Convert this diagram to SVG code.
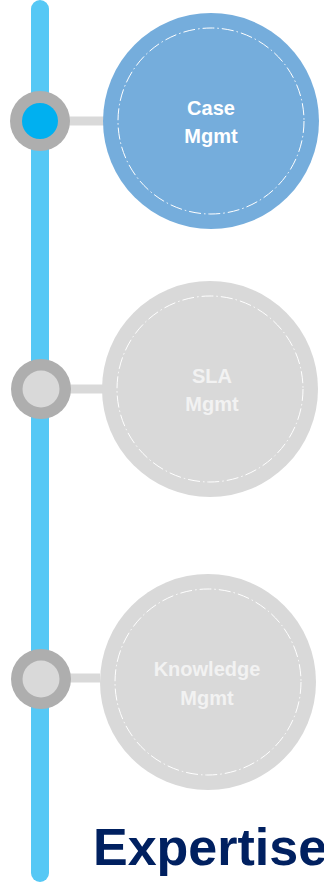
<svg xmlns="http://www.w3.org/2000/svg" width="324" height="882" viewBox="0 0 324 882">
  <style>
    .ring { fill: #aeaeae; }
    .dot-off { fill: #d9d9d9; }
    .dot-on { fill: #00b0f0; }
    .link { stroke: #d9d9d9; stroke-width: 9; }
    .disc-on { fill: #75addc; }
    .disc-off { fill: #d9d9d9; }
    .inner { fill: none; stroke: #ffffff; stroke-width: 1; stroke-dasharray: 12 3 1.5 3; }
    .label { font-family: "Liberation Sans", Arial, sans-serif; font-weight: bold; font-size: 20px; text-anchor: middle; }
    .label-on { fill: #ffffff; }
    .label-off { fill: #f2f2f2; }
    .title { font-family: "Liberation Sans", Arial, sans-serif; font-weight: bold; font-size: 52px; fill: #002060; }
  </style>

  <!-- timeline spine -->
  <rect id="spine" x="31" y="0" width="18" height="882" rx="9" fill="#56c8f5"/>

  <!-- connectors from spine markers to discs -->
  <g id="connectors">
    <line class="link" x1="68" y1="121" x2="104" y2="121"/>
    <line class="link" x1="70" y1="389" x2="104" y2="389"/>
    <line class="link" x1="70" y1="678" x2="100" y2="678"/>
  </g>

  <!-- step 1: active -->
  <g id="case-mgmt">
    <circle class="ring" cx="40" cy="121" r="30"/>
    <circle class="dot-on" cx="40" cy="121" r="18"/>
    <circle class="disc-on" cx="211" cy="121" r="108"/>
    <circle class="inner" cx="211" cy="121" r="93"/>
    <text class="label label-on" x="211" y="115">Case</text>
    <text class="label label-on" x="211" y="143">Mgmt</text>
  </g>

  <!-- step 2 -->
  <g id="sla-mgmt">
    <circle class="ring" cx="41" cy="389" r="30"/>
    <circle class="dot-off" cx="41" cy="389" r="18.5"/>
    <circle class="disc-off" cx="210" cy="389" r="108"/>
    <circle class="inner" cx="210" cy="389" r="93"/>
    <text class="label label-off" x="212" y="383">SLA</text>
    <text class="label label-off" x="212" y="411">Mgmt</text>
  </g>

  <!-- step 3 -->
  <g id="knowledge-mgmt">
    <circle class="ring" cx="41" cy="679" r="30"/>
    <circle class="dot-off" cx="41" cy="679" r="18.5"/>
    <circle class="disc-off" cx="208" cy="682" r="108"/>
    <circle class="inner" cx="208" cy="682" r="93"/>
    <text class="label label-off" x="207" y="676">Knowledge</text>
    <text class="label label-off" x="207" y="705">Mgmt</text>
  </g>

  <text id="title" class="title" x="93" y="865">Expertise</text>
</svg>
